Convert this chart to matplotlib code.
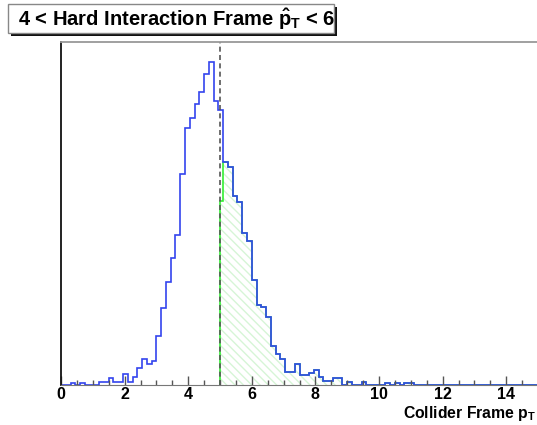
import numpy as np
import matplotlib
matplotlib.use("Agg")
import matplotlib.pyplot as plt
from matplotlib.patches import Rectangle
from matplotlib.ticker import MultipleLocator

plt.rcParams['font.family'] = ['Liberation Sans', 'DejaVu Sans']
plt.rcParams['font.weight'] = 'bold'
plt.rcParams['mathtext.fontset'] = 'custom'
plt.rcParams['mathtext.rm'] = 'Liberation Sans:bold'
plt.rcParams['mathtext.it'] = 'Liberation Sans:bold'
plt.rcParams['mathtext.bf'] = 'Liberation Sans:bold'

# histogram: 100 bins of 0.15 from 0 to 15 (counts, arbitrary units)
x_lo, x_hi, n_bins = 0.0, 15.0, 100
counts = [0, 0, 2, 0, 2, 0, 0, 0, 3.3, 3.3,
          6.7, 3.3, 3.3, 11.3, 3.3, 8, 16.7, 25.7, 21, 24.3,
          49.3, 76.7, 103, 127.3, 149.7, 210.7, 256.7, 266.7, 281, 292.7,
          310.7, 322.7, 283.7, 274.7, 222.3, 217.7, 189, 182.3, 151.7, 143.3,
          105, 79.7, 78.3, 67.7, 39.3, 30.7, 25.7, 13, 13, 21,
          9.5, 9.5, 11.5, 14.7, 8.3, 4, 4, 6.7, 6.7, 0,
          3, 0, 0, 3, 0, 0, 0, 0, 2, 0,
          2, 0, 2, 2] + [0] * 26
cut = 5.0           # collider-frame pT cut (dashed line)
first_cut_bin = 33  # bin containing the cut
cut_bin_count = 184  # entries of that bin above the cut

edges = np.linspace(x_lo, x_hi, n_bins + 1)
counts = np.array(counts, dtype=float)
green_edges = np.concatenate([[cut], edges[first_cut_bin + 1:]])
green_counts = np.concatenate([[cut_bin_count], counts[first_cut_bin + 1:]])

W, H = 537, 425
fig = plt.figure(figsize=(W / 100, H / 100), dpi=100)
ax = fig.add_axes([61 / W, 40 / H, 477 / W, 343.5 / H])

# hatched region above the cut
ax.stairs(green_counts, green_edges, fill=True, facecolor='none',
          edgecolor='#d6f5d6', hatch='\\\\\\\\', linewidth=0)
ax.stairs(green_counts, green_edges, color='#33ee33', linewidth=1.2)
ax.stairs(counts, edges, color='#3344ee', linewidth=1.2)
ax.axvline(cut, color='#555555', linestyle=(0, (3, 2)), linewidth=1.2)

ax.set_xlim(x_lo, x_hi)
ax.set_ylim(0, 343)
ax.xaxis.set_major_locator(MultipleLocator(2))
ax.xaxis.set_minor_locator(MultipleLocator(0.5))
ax.tick_params(axis='x', which='major', direction='in', length=6.5, width=1.0,
               color='#555555', labelsize=11.5, pad=1.5)
ax.tick_params(axis='x', which='minor', direction='in', length=3.5, width=1.0,
               color='#555555')
ax.tick_params(axis='y', left=False, labelleft=False)
for lab in ax.get_xticklabels():
    lab.set_fontweight('bold')
ax.spines['left'].set_color('#111111')
ax.spines['left'].set_linewidth(1.3)
ax.spines['top'].set_color('#999999')
ax.spines['top'].set_linewidth(1.3)
ax.spines['bottom'].set_color('#777777')
ax.spines['right'].set_visible(False)

# title box with shadow, ROOT style
box_l, box_t, box_r, box_b = 8, 4, 334, 33
fig.patches.append(Rectangle(((box_l + 3) / W, 1 - (box_b + 3) / H),
                             (box_r - box_l) / W, (box_b - box_t) / H,
                             transform=fig.transFigure, facecolor='#111111',
                             edgecolor='none', zorder=1))
fig.patches.append(Rectangle((box_l / W, 1 - box_b / H),
                             (box_r - box_l) / W, (box_b - box_t) / H,
                             transform=fig.transFigure, facecolor='white',
                             edgecolor='#888888', linewidth=1.0, zorder=2))
fig.text(18 / W, 1 - 26 / H, r'4 < Hard Interaction Frame $\hat{p}_{T}$ < 6',
         fontsize=14.5, fontweight='bold', ha='left', va='baseline', zorder=3)

fig.text(536 / W, 1 - 418 / H, r'Collider Frame $p_{T}$', fontsize=11.3,
         fontweight='bold', ha='right', va='baseline')

fig.savefig('out.png', dpi=100)
